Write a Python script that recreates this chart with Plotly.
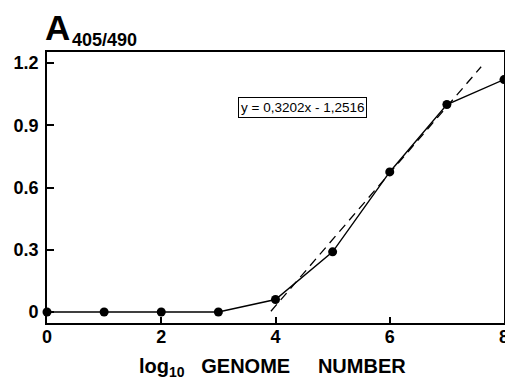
import plotly.graph_objects as go

# Data
log_genome = [0, 1, 2, 3, 4, 5, 6, 7, 8]
absorbance = [0.0, 0.0, 0.0, 0.0, 0.06, 0.29, 0.675, 1.0, 1.12]
slope = 0.3202
intercept = -1.2516
fit_x = [3.92, 7.6]
fit_y = [slope * x + intercept for x in fit_x]
x_ticks = [0, 2, 4, 6, 8]
y_ticks = [0, 0.3, 0.6, 0.9, 1.2]
y_tick_labels = ["0", "0.3", "0.6", "0.9", "1.2"]
equation = "y = 0,3202x - 1,2516"

FONT = "Liberation Sans, Arial, Helvetica, sans-serif"
W, H = 505, 382
ML, MR, MT, MB = 47, 1, 52, 59
PW, PH = W - ML - MR, H - MT - MB

fig = go.Figure()
fig.add_trace(go.Scatter(
    x=fit_x, y=fit_y, mode="lines",
    line=dict(color="black", width=1.3, dash="9px,6px"),
    hoverinfo="skip", showlegend=False))
fig.add_trace(go.Scatter(
    x=log_genome, y=absorbance, mode="lines+markers",
    line=dict(color="black", width=1.4),
    marker=dict(color="black", size=9),
    cliponaxis=False, showlegend=False))

fig.update_layout(
    width=W, height=H,
    margin=dict(l=ML, r=MR, t=MT, b=MB, autoexpand=False),
    paper_bgcolor="white", plot_bgcolor="white",
    font=dict(family=FONT, color="black"),
    xaxis=dict(range=[0, 8], tickvals=x_ticks, ticks="inside", ticklen=6,
               tickwidth=1.5, tickcolor="black", showline=True, linewidth=1.8,
               linecolor="black", mirror=True, showgrid=False, zeroline=False,
               automargin=False, ticklabeloverflow="allow",
               tickfont=dict(size=18, family=FONT, weight="bold"),
               ticklabelstandoff=-4),
    yaxis=dict(range=[-0.053, 1.253], tickvals=y_ticks, ticktext=y_tick_labels,
               ticks="inside", ticklen=7, tickwidth=1.5, tickcolor="black",
               showline=True, linewidth=1.8, linecolor="black", mirror=True,
               showgrid=False, zeroline=False, automargin=False,
               tickfont=dict(size=18, family=FONT, weight="bold"),
               ticklabelstandoff=3),
)

# Title A405/490
fig.add_annotation(xref="paper", yref="paper", x=(43 - ML) / PW, y=1 + (MT - 6) / PH,
                   text="A", showarrow=False, xanchor="left", yanchor="top",
                   font=dict(size=35, family=FONT, weight="bold"))
fig.add_annotation(xref="paper", yref="paper", x=(70 - ML) / PW, y=1 + (MT - 28) / PH,
                   text="405/490", showarrow=False, xanchor="left", yanchor="top",
                   font=dict(size=18, family=FONT, weight="bold"))

# Equation box
fig.add_annotation(x=4.48, y=0.985, xref="x", yref="y", text=equation,
                   showarrow=False, bordercolor="black", borderwidth=1,
                   borderpad=2, bgcolor="white",
                   font=dict(size=13.5, family=FONT, color="black"))

# X axis title
fig.add_annotation(xref="paper", yref="paper", x=(272 - ML) / PW, y=-(382 - (H - MB)) / PH,
                   text="log<sub>10</sub>\u00a0\u00a0 GENOME\u00a0\u00a0\u00a0\u00a0 NUMBER",
                   showarrow=False, xanchor="center", yanchor="bottom",
                   font=dict(size=20, family=FONT, weight="bold"))

fig.write_html("out.html", config={"displayModeBar": False},
               post_script="document.body.style.margin='0';document.body.style.overflow='hidden';")
